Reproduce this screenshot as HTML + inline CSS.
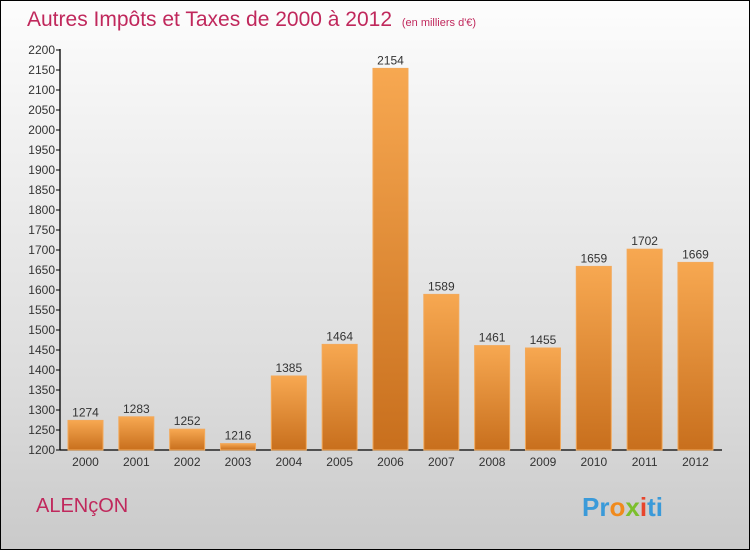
<!DOCTYPE html>
<html><head><meta charset="utf-8"><style>
body{margin:0;width:750px;height:550px;overflow:hidden;font-family:"Liberation Sans",sans-serif;}
#wrap{position:absolute;left:0;top:0;width:748px;height:548px;border:1px solid #000;background:linear-gradient(#fdfdfd,#f3f3f3 20%,#dcdcdc 70%,#cacaca);}
</style></head><body>
<div id="wrap">
<svg width="750" height="550" style="position:absolute;left:-1px;top:-1px">
<defs><linearGradient id="bg" x1="0" y1="0" x2="0" y2="1"><stop offset="0" stop-color="#f7a851"/><stop offset="1" stop-color="#c86f1d"/></linearGradient></defs>
<text x="27" y="26" font-size="21" fill="#c0285c">Autres Impôts et Taxes de 2000 à 2012 <tspan font-size="11" dx="4">(en milliers d'€)</tspan></text>
<g id="axes"></g><g id="bars"></g>
<text x="36" y="512" font-size="20" fill="#c0285c">ALENçON</text>
<text x="582" y="516" font-size="26" font-weight="bold" fill="#3a9ad9"><tspan fill="#3a9ad9">Pr</tspan><tspan fill="#f08a1c">o</tspan><tspan fill="#7cbf2d">x</tspan><tspan fill="#e8452c">i</tspan><tspan fill="#3a9ad9">ti</tspan></text>
</svg></div>
<script>
const years=["2000","2001","2002","2003","2004","2005","2006","2007","2008","2009","2010","2011","2012"];
const values=[1274,1283,1252,1216,1385,1464,2154,1589,1461,1455,1659,1702,1669];
const yTicks=[1200,1250,1300,1350,1400,1450,1500,1550,1600,1650,1700,1750,1800,1850,1900,1950,2000,2050,2100,2150,2200];
const NS="http://www.w3.org/2000/svg";
const y=v=>450-(v-1200)*0.4;
const x=i=>85.5+i*50.83;
function mk(t,a,p){const e=document.createElementNS(NS,t);for(const k in a)e.setAttribute(k,a[k]);p.appendChild(e);return e;}
const ax=document.getElementById('axes'),bg=document.getElementById('bars');
let l=mk('line',{x1:60,y1:49,x2:60,y2:450,stroke:'#000','stroke-width':1.3},ax);


l=mk('line',{x1:60,y1:450,x2:722,y2:450,stroke:'#000','stroke-width':1.3},ax);


yTicks.forEach(v=>{
mk('line',{x1:56,x2:60,y1:y(v),y2:y(v),stroke:'#000'},ax);
const t=mk('text',{x:55,y:y(v)+4,'font-size':12,fill:'#333','text-anchor':'end'},ax);t.textContent=v;


});
years.forEach((yr,i)=>{
const t=mk('text',{x:x(i),y:466,'font-size':12,fill:'#333','text-anchor':'middle'},ax);t.textContent=yr;


const v=values[i];
const r=mk('rect',{x:x(i)-17.5,y:y(v),width:35,height:450-y(v),fill:'url(#bg)',stroke:'#f3a95a','stroke-width':1},bg);


const lb=mk('text',{x:x(i),y:y(v)-4,'font-size':12,fill:'#333','text-anchor':'middle'},bg);lb.textContent=v;


});
</script>
</body></html>
